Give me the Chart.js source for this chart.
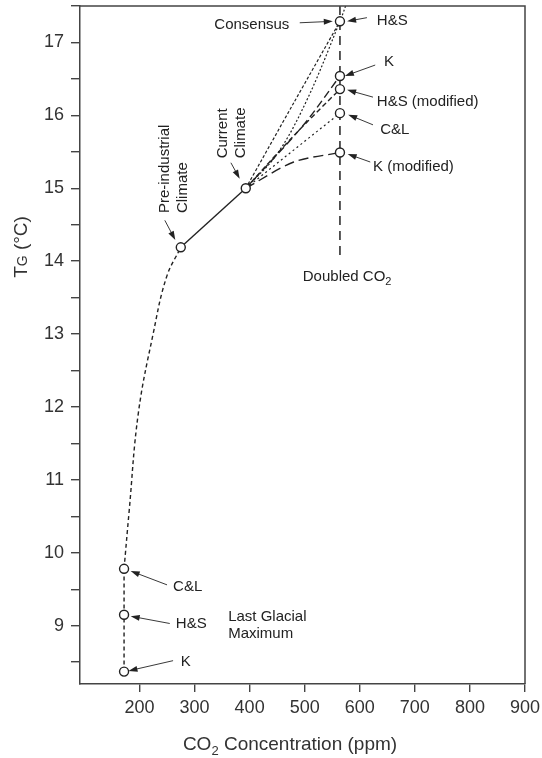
<!DOCTYPE html>
<html>
<head>
<meta charset="utf-8">
<title>Global temperature vs CO2</title>
<script src="https://cdn.jsdelivr.net/npm/chart.js@4/dist/chart.umd.min.js"></script>
<style>
  html, body { margin: 0; padding: 0; background: #fff; }
  #wrap { width: 542px; height: 758px; position: relative; }
</style>
</head>
<body>
<div id="wrap"><canvas id="chart"></canvas></div>
<script>
// ---- data (ppm, degC) ----
const xTicks = [200, 300, 400, 500, 600, 700, 800, 900];
const yTicks = [8.5, 9, 9.5, 10, 10.5, 11, 11.5, 12, 12.5, 13, 13.5, 14, 14.5, 15, 15.5, 16, 16.5, 17, 17.5];

const lgmCO2 = 172;
const lgmTemps = [8.37, 9.15, 9.78];          // K, H&S, C&L
const preIndustrial = [275, 14.19];
const current = [393, 15.0];
const doubledCO2 = 564;
const doubledTemps = [17.29, 16.54, 16.36, 16.03, 15.49]; // H&S, K, H&S mod, C&L, K mod

// dashed path from the glacial maximum up to pre-industrial
const lgmPathX = [172, 181, 198, 225, 249, 275];
const lgmPathY = [9.78, 10.55, 11.92, 13.01, 13.78, 14.19];

// projections from the current climate to doubled CO2
const consensusX = [393, 450, 504, 564, 578];
const consensusY = [15.0, 15.47, 16.21, 17.29, 17.58];
const hsX = [393, 480, 564];
const hsY = [15.0, 16.17, 17.29];
const kX = [393, 497, 564];
const kY = [15.0, 15.86, 16.54];
const hsModX = [393, 480, 564];
const hsModY = [15.0, 15.72, 16.36];
const clX = [393, 564];
const clY = [15.0, 16.03];
const kModX = [393, 480, 564];
const kModY = [15.0, 15.36, 15.49];
const doubledLineY = [17.5, 14.03];

const toPts = (xs, ys) => xs.map((x, i) => ({ x: x, y: ys[i] }));

const INK = '#222';
const FONT = "'Liberation Sans', Arial, sans-serif";

// ---- labels and arrows, in data units ----
const labels = [
  { text: 'Consensus', x: 404, y: 17.24, align: 'center' },
  { text: 'H&S', x: 631, y: 17.29 },
  { text: 'K', x: 644, y: 16.73 },
  { text: 'H&S (modified)', x: 631, y: 16.18 },
  { text: 'C&L', x: 637, y: 15.80 },
  { text: 'K (modified)', x: 624, y: 15.29 },
  { text: 'C&L', x: 261, y: 9.53 },
  { text: 'H&S', x: 266, y: 9.02 },
  { text: 'K', x: 275, y: 8.50 },
  { text: 'Last Glacial', x: 361, y: 9.12 },
  { text: 'Maximum', x: 361, y: 8.89 },
  { text: 'Pre-industrial', x: 246, y: 14.66, rotate: true },
  { text: 'Climate', x: 279, y: 14.66, rotate: true },
  { text: 'Current', x: 352, y: 15.41, rotate: true },
  { text: 'Climate', x: 384, y: 15.41, rotate: true }
];

const arrows = [
  [491, 17.27, 551, 17.29],
  [613, 17.34, 577, 17.29],
  [628, 16.69, 573, 16.54],
  [624, 16.25, 577, 16.35],
  [624, 15.87, 579, 16.01],
  [619, 15.36, 578, 15.47],
  [250, 9.56, 184, 9.75],
  [255, 9.03, 184, 9.13],
  [261, 8.52, 180, 8.38],
  [246, 14.56, 265, 14.29],
  [366, 15.35, 382, 15.13]
];

function drawArrow(ctx, x1, y1, x2, y2) {
  const a = Math.atan2(y2 - y1, x2 - x1);
  const len = 9, half = 3;
  ctx.beginPath();
  ctx.moveTo(x1, y1);
  ctx.lineTo(x2 - Math.cos(a) * len * 0.8, y2 - Math.sin(a) * len * 0.8);
  ctx.lineWidth = 0.9;
  ctx.stroke();
  ctx.beginPath();
  ctx.moveTo(x2, y2);
  ctx.lineTo(x2 - Math.cos(a) * len - Math.sin(a) * half, y2 - Math.sin(a) * len + Math.cos(a) * half);
  ctx.lineTo(x2 - Math.cos(a) * len + Math.sin(a) * half, y2 - Math.sin(a) * len - Math.cos(a) * half);
  ctx.closePath();
  ctx.fill();
}

// text with a lowered/smaller part: parts = [[text, size, dy]]
function partsWidth(ctx, parts) {
  let w = 0;
  parts.forEach(p => { ctx.font = p[1] + 'px ' + FONT; w += ctx.measureText(p[0]).width; });
  return w;
}
function drawParts(ctx, parts, x, y) {
  parts.forEach(p => {
    ctx.font = p[1] + 'px ' + FONT;
    ctx.fillText(p[0], x, y + p[2]);
    x += ctx.measureText(p[0]).width;
  });
}

const annotate = {
  id: 'annotate',
  afterDraw(chart) {
    const { ctx, chartArea: ca } = chart;
    const sx = chart.scales.x, sy = chart.scales.y;
    ctx.save();
    ctx.fillStyle = INK;
    ctx.strokeStyle = INK;

    // top and right frame
    ctx.beginPath();
    ctx.lineWidth = 1.5;
    ctx.strokeStyle = '#444';
    ctx.moveTo(ca.left, ca.top);
    ctx.lineTo(ca.right, ca.top);
    ctx.lineTo(ca.right, ca.bottom);
    ctx.stroke();
    ctx.strokeStyle = INK;

    ctx.font = '15px ' + FONT;
    ctx.textBaseline = 'middle';
    labels.forEach(l => {
      const px = sx.getPixelForValue(l.x), py = sy.getPixelForValue(l.y);
      if (l.rotate) {
        ctx.save();
        ctx.translate(px, py);
        ctx.rotate(-Math.PI / 2);
        ctx.textAlign = 'left';
        ctx.fillText(l.text, 0, 0);
        ctx.restore();
      } else {
        ctx.textAlign = l.align || 'left';
        ctx.fillText(l.text, px, py);
      }
    });

    arrows.forEach(a => {
      drawArrow(ctx, sx.getPixelForValue(a[0]), sy.getPixelForValue(a[1]),
        sx.getPixelForValue(a[2]), sy.getPixelForValue(a[3]));
    });

    // "Doubled CO2"
    ctx.textAlign = 'left';
    ctx.textBaseline = 'alphabetic';
    const dbl = [['Doubled CO', 15, 0], ['2', 11, 4]];
    const dw = partsWidth(ctx, dbl);
    drawParts(ctx, dbl, sx.getPixelForValue(577) - dw / 2, sy.getPixelForValue(13.80) + 5);

    // axis titles
    ctx.fillStyle = '#333';
    const xt = [['CO', 19, 0], ['2', 13, 5], [' Concentration (ppm)', 19, 0]];
    const xw = partsWidth(ctx, xt);
    drawParts(ctx, xt, 290 - xw / 2, 750);

    const yt = [['T', 19, 0], ['G', 14, 0], [' (°C)', 19, 0]];
    const yw = partsWidth(ctx, yt);
    ctx.save();
    ctx.translate(27, 247);
    ctx.rotate(-Math.PI / 2);
    drawParts(ctx, yt, -yw / 2, 0);
    ctx.restore();

    ctx.restore();
  }
};

function lineSet(xs, ys, dash, tension, width) {
  return {
    data: toPts(xs, ys),
    showLine: true,
    borderColor: INK,
    borderWidth: width || 1.4,
    borderDash: dash,
    pointRadius: 0,
    tension: tension || 0,
    fill: false
  };
}

const markers = toPts(
  [lgmCO2, lgmCO2, lgmCO2, preIndustrial[0], current[0]].concat(doubledTemps.map(() => doubledCO2)),
  lgmTemps.concat([preIndustrial[1], current[1]]).concat(doubledTemps)
);

new Chart(document.getElementById('chart').getContext('2d'), {
  type: 'scatter',
  data: {
    datasets: [
      {
        data: markers,
        pointStyle: 'circle',
        pointRadius: 4.5,
        pointBorderWidth: 1.4,
        pointBorderColor: INK,
        pointBackgroundColor: '#fff',
        showLine: false
      },
      lineSet([lgmCO2, lgmCO2], [lgmTemps[0], lgmTemps[2]], [4, 3]),
      lineSet(lgmPathX, lgmPathY, [4, 3], 0.4),
      lineSet([preIndustrial[0], current[0]], [preIndustrial[1], current[1]], []),
      lineSet(consensusX, consensusY, [2, 2], 0.35, 1.2),
      lineSet(hsX, hsY, [3, 2], 0.3, 1.2),
      lineSet(kX, kY, [8, 4], 0.3),
      lineSet(hsModX, hsModY, [5, 3], 0.3),
      lineSet(clX, clY, [2, 3], 0, 1.2),
      lineSet(kModX, kModY, [10, 5], 0.3),
      lineSet([doubledCO2, doubledCO2], doubledLineY, [9, 6], 0, 1.5)
    ]
  },
  options: {
    responsive: true,
    maintainAspectRatio: false,
    animation: false,
    events: [],
    layout: { padding: { left: 0, top: 6, right: 17, bottom: 0 } },
    plugins: { legend: { display: false }, tooltip: { enabled: false } },
    scales: {
      x: {
        type: 'linear',
        min: 92,
        max: 900,
        afterBuildTicks: s => { s.ticks = xTicks.map(v => ({ value: v })); },
        afterFit: s => { s.height = 74; s.paddingRight = 0; s.paddingLeft = 0; },
        ticks: { color: '#333', font: { family: FONT, size: 18 }, padding: 5, maxRotation: 0 },
        grid: { drawOnChartArea: false, tickLength: 8, color: '#444', lineWidth: 1.4 },
        border: { color: '#444', width: 1.5 }
      },
      y: {
        type: 'linear',
        min: 8.2,
        max: 17.5,
        afterBuildTicks: s => { s.ticks = yTicks.map(v => ({ value: v })); },
        afterFit: s => { s.width = 80; s.paddingTop = 0; s.paddingBottom = 0; },
        ticks: {
          color: '#333',
          font: { family: FONT, size: 18, lineHeight: 0.6 },
          padding: 7,
          callback: v => (Number.isInteger(v) ? String(v) : '')
        },
        grid: { drawOnChartArea: false, tickLength: 9, color: '#444', lineWidth: 1.4 },
        border: { color: '#444', width: 1.5 }
      }
    }
  },
  plugins: [annotate]
});
</script>
</body>
</html>
